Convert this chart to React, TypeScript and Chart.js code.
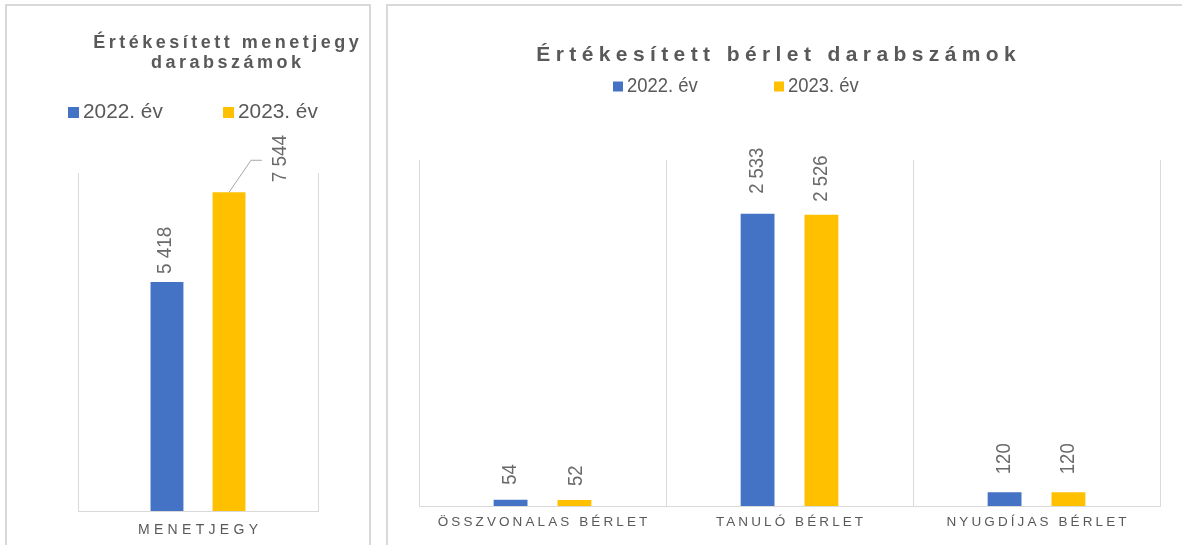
import React, { useEffect, useRef } from "react";
import { Chart, registerables } from "chart.js";

Chart.register(...registerables);

// ---------- data ----------
const seriesLabels = ["2022. év", "2023. év"];
const seriesColors = ["#4472C4", "#FFC000"];

const ticketTitle = ["Értékesített menetjegy", "darabszámok"];
const ticketCategories = ["MENETJEGY"];
const ticket2022 = [5418];
const ticket2023 = [7544];
const ticketAxisMax = 8000;

const passTitle = ["Értékesített bérlet darabszámok"];
const passCategories = ["ÖSSZVONALAS BÉRLET", "TANULÓ BÉRLET", "NYUGDÍJAS BÉRLET"];
const pass2022 = [54, 2533, 120];
const pass2023 = [52, 2526, 120];
const passAxisMax = 3000;

// ---------- helpers ----------
const FONT = '"Liberation Sans", Arial, sans-serif';
const TEXT = "#595959";
const LABEL = "#6a6a6a";
const GRID = "#d9d9d9";

function fmt(v: number): string {
  return String(v).replace(/\B(?=(\d{3})+(?!\d))/g, " ");
}

type LabelPos = { dx: number; gap: number; leader?: boolean };

type Cfg = {
  width: number;
  height: number;
  left: number;
  padding: { left: number; right: number; top: number; bottom: number };
  title: string[];
  titleX: number;
  titleY: number[];
  titleFont: number;
  titleSpacing: number;
  legendBoxX: number[];
  legendTextX: number[];
  legendY: number;
  legendBox: number;
  legendFont: number;
  legendStretch: number;
  tickFont: number;
  tickSpacing: number;
  tickY: number;
  labelFont: number;
  labelStretch: number;
  labelPos: LabelPos[][];
};

function makeOverlay(cfg: Cfg) {
  return {
    id: "overlay",
    afterDraw(chart: any) {
      const ctx = chart.ctx as CanvasRenderingContext2D & { letterSpacing: string };
      ctx.save();

      // title
      ctx.fillStyle = TEXT;
      ctx.font = `bold ${cfg.titleFont}px ${FONT}`;
      ctx.textAlign = "center";
      ctx.textBaseline = "alphabetic";
      ctx.letterSpacing = cfg.titleSpacing + "px";
      cfg.title.forEach((t, i) => {
        ctx.fillText(t, cfg.titleX + cfg.titleSpacing / 2, cfg.titleY[i]);
      });

      // legend
      ctx.letterSpacing = "0px";
      ctx.font = `${cfg.legendFont}px ${FONT}`;
      ctx.textAlign = "left";
      ctx.textBaseline = "middle";
      chart.data.datasets.forEach((ds: any, i: number) => {
        ctx.fillStyle = ds.backgroundColor;
        ctx.fillRect(cfg.legendBoxX[i], cfg.legendY - cfg.legendBox / 2, cfg.legendBox, cfg.legendBox);
        ctx.fillStyle = TEXT;
        ctx.save();
        ctx.translate(cfg.legendTextX[i], cfg.legendY);
        ctx.scale(cfg.legendStretch, 1);
        ctx.fillText(ds.label, 0, 0);
        ctx.restore();
      });

      // category labels
      const xs = chart.scales.x;
      ctx.font = `${cfg.tickFont}px ${FONT}`;
      ctx.textAlign = "center";
      ctx.textBaseline = "middle";
      ctx.letterSpacing = cfg.tickSpacing + "px";
      ctx.fillStyle = TEXT;
      (chart.data.labels as string[]).forEach((lab, i) => {
        ctx.fillText(lab, xs.getPixelForValue(i) + cfg.tickSpacing / 2, cfg.tickY);
      });

      // data labels (rotated)
      ctx.letterSpacing = "0px";
      ctx.font = `${cfg.labelFont}px ${FONT}`;
      ctx.fillStyle = LABEL;
      ctx.textAlign = "left";
      ctx.textBaseline = "middle";
      chart.data.datasets.forEach((ds: any, di: number) => {
        const meta = chart.getDatasetMeta(di);
        meta.data.forEach((el: any, i: number) => {
          const pos = cfg.labelPos[di][i];
          const x = el.x + pos.dx;
          const y = el.y - pos.gap;
          if (pos.leader) {
            ctx.save();
            ctx.strokeStyle = "#a6a6a6";
            ctx.lineWidth = 1;
            ctx.beginPath();
            ctx.moveTo(el.x, el.y);
            ctx.lineTo(el.x + 22, el.y - 32);
            ctx.lineTo(el.x + 33, el.y - 32);
            ctx.stroke();
            ctx.restore();
          }
          ctx.save();
          ctx.translate(x, y);
          ctx.rotate(-Math.PI / 2);
          ctx.scale(cfg.labelStretch, 1);
          ctx.fillText(fmt(ds.data[i]), 0, 0);
          ctx.restore();
        });
      });

      ctx.restore();
    },
  };
}

function BarChart(props: { cfg: Cfg; labels: string[]; series: number[][]; max: number }) {
  const { cfg, labels, series, max } = props;
  const ref = useRef<HTMLCanvasElement>(null);
  useEffect(() => {
    const chart = new Chart(ref.current as HTMLCanvasElement, {
      type: "bar",
      data: {
        labels,
        datasets: series.map((d, i) => ({
          label: seriesLabels[i],
          data: d,
          backgroundColor: seriesColors[i],
          borderWidth: 0,
          categoryPercentage: 0.517,
          barPercentage: 0.53,
        })),
      },
      options: {
        responsive: false,
        animation: false,
        layout: { padding: cfg.padding },
        plugins: {
          legend: { display: false },
          title: { display: false },
          tooltip: { enabled: false },
        },
        scales: {
          x: {
            grid: { color: GRID, lineWidth: 1, drawTicks: false, offset: true },
            border: { color: GRID, width: 1 },
            ticks: { display: false },
          },
          y: { display: false, min: 0, max },
        },
      } as any,
      plugins: [makeOverlay(cfg)],
    });
    return () => chart.destroy();
  }, []);
  return (
    <canvas
      ref={ref}
      width={cfg.width}
      height={cfg.height}
      style={{
        position: "absolute",
        left: cfg.left,
        top: 0,
        width: cfg.width,
        height: cfg.height,
        display: "block",
      }}
    />
  );
}

const ticketCfg: Cfg = {
  width: 380,
  height: 545,
  left: 0,
  padding: { left: 78, right: 62, top: 173, bottom: 34 },
  title: ticketTitle,
  titleX: 226,
  titleY: [48, 68],
  titleFont: 18,
  titleSpacing: 3.5,
  legendBoxX: [68, 223],
  legendTextX: [83, 238],
  legendY: 112.5,
  legendBox: 11,
  legendFont: 20,
  legendStretch: 1.04,
  tickFont: 14,
  tickSpacing: 4.3,
  tickY: 530,
  labelFont: 21,
  labelStretch: 0.9,
  labelPos: [[{ dx: -2, gap: 8 }], [{ dx: 51, gap: 10, leader: true }]],
};

const passCfg: Cfg = {
  width: 802,
  height: 545,
  left: 380,
  padding: { left: 39, right: 22, top: 160, bottom: 39 },
  title: passTitle,
  titleX: 396,
  titleY: [61],
  titleFont: 21,
  titleSpacing: 5.4,
  legendBoxX: [233, 394],
  legendTextX: [247, 408],
  legendY: 86.5,
  legendBox: 10,
  legendFont: 20.5,
  legendStretch: 0.9,
  tickFont: 13.5,
  tickSpacing: 3.1,
  tickY: 522,
  labelFont: 21,
  labelStretch: 0.88,
  labelPos: [
    [{ dx: 0, gap: 15 }, { dx: 0, gap: 20 }, { dx: 0, gap: 18 }],
    [{ dx: 2, gap: 14 }, { dx: 0, gap: 13 }, { dx: 0, gap: 18 }],
  ],
};

export default function App() {
  return (
    <div
      style={{
        position: "absolute",
        left: 0,
        top: 0,
        width: 1182,
        height: 545,
        overflow: "hidden",
        background: "#ffffff",
      }}
    >
      <div
        style={{
          position: "absolute",
          left: 5,
          top: 4,
          width: 366,
          height: 600,
          border: "2px solid #d9d9d9",
          boxSizing: "border-box",
        }}
      />
      <div
        style={{
          position: "absolute",
          left: 386,
          top: 4,
          width: 900,
          height: 600,
          border: "2px solid #d9d9d9",
          boxSizing: "border-box",
        }}
      />
      <BarChart cfg={ticketCfg} labels={ticketCategories} series={[ticket2022, ticket2023]} max={ticketAxisMax} />
      <BarChart cfg={passCfg} labels={passCategories} series={[pass2022, pass2023]} max={passAxisMax} />
    </div>
  );
}
